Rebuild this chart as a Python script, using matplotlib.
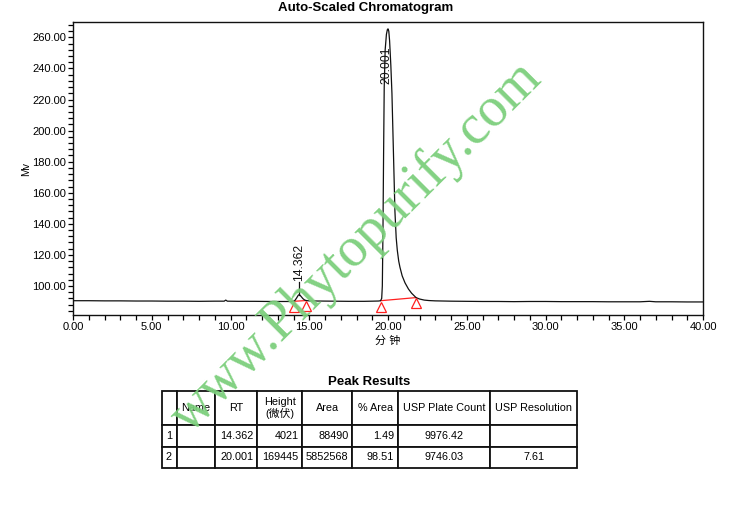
import matplotlib
matplotlib.use("Agg")
import matplotlib.pyplot as plt
from matplotlib.ticker import MultipleLocator, FormatStrFormatter
from matplotlib.table import Table
import matplotlib.transforms as mtransforms

plt.rcParams['font.family'] = ['Liberation Sans', 'Noto Sans CJK SC', 'DejaVu Sans']

# ---- chromatogram trace (time in min, signal in mV) ----
trace_time = [0.0, 1.0, 2.0, 3.0, 4.0, 5.0, 6.0, 7.0, 8.0, 9.0, 9.6, 9.7, 9.8, 10.5, 11.5, 12.5, 13.5,
              13.8, 14.0, 14.1, 14.2, 14.3, 14.36, 14.42, 14.5, 14.6, 14.7, 14.8, 15.0, 15.5, 16.5,
              17.5, 18.5, 19.0, 19.4, 19.53, 19.6, 19.64, 19.68, 19.72, 19.76, 19.82, 19.9, 19.96,
              20.0, 20.05, 20.1, 20.18, 20.25, 20.34, 20.44, 20.52, 20.59, 20.68, 20.76, 20.9, 21.08,
              21.3, 21.5, 21.78, 22.0, 22.3, 22.6, 23.0, 24.0, 25.0, 26.0, 27.0, 28.0, 29.0, 30.0,
              31.0, 32.0, 33.0, 34.0, 35.0, 36.0, 36.6, 37.0, 38.0, 39.0, 40.0]
trace_signal = [90.5, 90.5, 90.4, 90.4, 90.3, 90.3, 90.2, 90.2, 90.1, 90.2, 90.2, 90.9, 90.2, 90.1, 90.1, 90.0, 90.0,
                90.0, 90.1, 90.8, 92.3, 94.0, 94.4, 94.0, 93.0, 91.8, 91.0, 90.6, 90.4, 90.3, 90.2,
                90.1, 90.1, 90.2, 90.3, 90.5, 92.0, 100.0, 135.0, 185.0, 228.0, 252.0, 262.0, 265.0,
                265.5, 264.0, 258.0, 242.0, 224.0, 188.0, 148.0, 131.0, 123.0, 116.0, 112.0, 106.5, 102.0,
                98.0, 95.3, 92.5, 91.6, 90.9, 90.6, 90.4, 90.2, 90.1, 90.0, 90.0, 89.9, 90.0, 90.0,
                89.9, 89.9, 89.9, 89.8, 89.8, 89.8, 90.1, 89.8, 89.8, 89.7, 89.7]

# ---- integration marks ----
peak_rt = [14.362, 20.001]
peak_labels = ["14.362", "20.001"]
peak_apex = [94.4, 265.5]
peak_start_time = [14.0, 19.53]
peak_start_value = [90.1, 90.5]
peak_end_time = [14.8, 21.78]
peak_end_value = [90.6, 92.5]

# ---- axis ----
x_limits = (0.0, 40.0)
y_limits = (81.3, 269.9)

# ---- peak results table ----
col_headers = ["", "Name", "RT", "Height\n(微伏)", "Area", "% Area", "USP Plate Count", "USP Resolution"]
row_index = ["1", "2"]
row_name = ["", ""]
row_rt = ["14.362", "20.001"]
row_height = ["4021", "169445"]
row_area = ["88490", "5852568"]
row_pct_area = ["1.49", "98.51"]
row_plate = ["9976.42", "9746.03"]
row_resolution = ["", "7.61"]

fig = plt.figure(figsize=(7.35, 5.30), dpi=100)
W, H = 735.0, 530.0
ax = fig.add_axes([73 / W, 1 - 315 / H, (703 - 73) / W, (315 - 22) / H])

ax.plot(trace_time, trace_signal, color='#111111', lw=0.9, zorder=3)

# red baselines and triangle markers
for i in range(len(peak_rt)):
    ax.plot([peak_start_time[i], peak_end_time[i]], [peak_start_value[i], peak_end_value[i]],
            color='#ff2020', lw=0.9, zorder=2)
tri_off = mtransforms.offset_copy(ax.transData, fig=fig, x=0, y=-4.2, units='points')
ax.plot(peak_start_time + peak_end_time, peak_start_value + peak_end_value, linestyle='none',
        marker='^', ms=7.5, mfc='none', mec='#ff2020', mew=0.9, transform=tri_off, zorder=4)

# peak labels
ax.plot([peak_rt[0], peak_rt[0]], [peak_apex[0], peak_apex[0] + 8], color='#111111', lw=0.9)
ax.text(peak_rt[0], peak_apex[0] + 8.5, peak_labels[0], rotation=90, ha='center', va='bottom',
        fontsize=8.8, color='#111111')
ax.text(peak_rt[1] - 0.08, 254, peak_labels[1], rotation=90, ha='center', va='top',
        fontsize=8.8, color='#111111', zorder=5)

ax.set_xlim(*x_limits)
ax.set_ylim(*y_limits)
ax.xaxis.set_major_locator(MultipleLocator(5))
ax.xaxis.set_minor_locator(MultipleLocator(1))
ax.yaxis.set_major_locator(MultipleLocator(20))
ax.yaxis.set_minor_locator(MultipleLocator(4))
ax.xaxis.set_major_formatter(FormatStrFormatter('%.2f'))
ax.yaxis.set_major_formatter(FormatStrFormatter('%.2f'))
ax.tick_params(axis='both', which='major', direction='out', length=3.5, width=0.9, labelsize=8, pad=1.5)
ax.tick_params(axis='both', which='minor', direction='out', length=3.5, width=0.9)
ax.set_yticks([t for t in range(100, 261, 20)])
for sp in ax.spines.values():
    sp.set_linewidth(1.0)
    sp.set_color('#111111')
ax.set_xlabel("分 钟", fontsize=8, labelpad=3)
ax.set_ylabel("Mv", fontsize=7.5, labelpad=1)

fig.text(366 / W, 1 - 8 / H, "Auto-Scaled Chromatogram", ha='center', va='center',
         fontsize=9.5, fontweight='bold')

# table
fig.text(369 / W, 1 - 382 / H, "Peak Results", ha='center', va='center', fontsize=9.5, fontweight='bold')
tax = fig.add_axes([162 / W, 1 - 468 / H, (577 - 162) / W, (468 - 391) / H])
tax.axis('off')
col_w = [15, 37.6, 42.4, 45, 50, 45.6, 92, 86.7]
row_h = [34, 21.5, 21.5]
tbl = Table(tax, bbox=[0, 0, 1, 1])
rows = [col_headers]
for i in range(len(row_index)):
    rows.append([row_index[i], row_name[i], row_rt[i], row_height[i], row_area[i],
                 row_pct_area[i], row_plate[i], row_resolution[i]])
locs = ['left', 'center', 'right', 'right', 'right', 'right', 'center', 'center']
for r, row in enumerate(rows):
    for c, txt in enumerate(row):
        loc = 'center' if r == 0 else locs[c]
        cell = tbl.add_cell(r, c, width=col_w[c], height=row_h[r], text=txt, loc=loc,
                            edgecolor='#111111', facecolor='white')
        cell.set_linewidth(1.3)
        if c == 0:
            cell.PAD = 0.25
        else:
            cell.PAD = 0.08
tbl.auto_set_font_size(False)
tbl.set_fontsize(7.8)
tax.add_table(tbl)

# watermark
fig.text(367 / W, 1 - 257 / H, "www.Phytopurify.com", rotation=45, rotation_mode='anchor',
         ha='center', va='baseline', fontsize=40, family='Liberation Serif', color='#7ccf7c',
         alpha=0.95, zorder=10)

fig.savefig("out.png", dpi=100)
